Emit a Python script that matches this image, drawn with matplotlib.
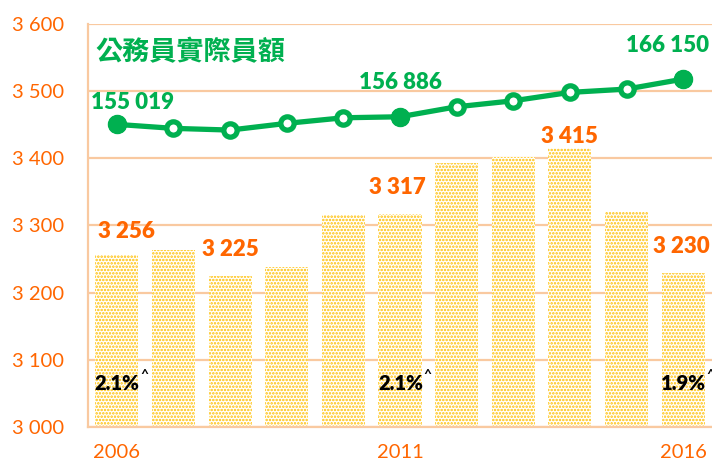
import numpy as np
import matplotlib
matplotlib.use('Agg')
import matplotlib.pyplot as plt

# data
years = ['2006', '2007', '2008', '2009', '2010', '2011',
         '2012', '2013', '2014', '2015', '2016']
bar_values = [3256, 3263, 3225, 3238, 3315, 3317,
              3393, 3402, 3415, 3320, 3230]
staff = [155019, 154036, 153619, 155265, 156640, 156886,
         159343, 160818, 162881, 163692, 166150]
bar_labelled = [0, 2, 5, 8, 10]
staff_labelled = [0, 5, 10]
pct_idx = [0, 5, 10]
pct_text = ['2.1%', '2.1%', '1.9%']
tick_years = [0, 5, 10]

orange = '#FF6600'
green = '#00B050'
grid_col = '#F9C9A0'
dot_col = '#FFBF00'

plt.rcParams['font.family'] = ['Lato', 'Noto Sans CJK TC', 'DejaVu Sans']
plt.rcParams['hatch.linewidth'] = 1.2

fig = plt.figure(figsize = (7.12, 4.67), dpi = 100)
ax = fig.add_axes([88/712., 1 - 427/467., 623.5/712., 403/467.])
x = np.arange(len(years))

ax.bar(x, np.array(bar_values) - 3000, bottom = 3000, width = 0.76,
       color = 'white', edgecolor = dot_col, linewidth = 0,
       hatch = '.....', zorder = 2)
ax.set_xlim(-0.508, 10.5)
ax.set_ylim(3000, 3600)
ax.set_yticks(np.arange(3000, 3601, 100))
ax.set_yticklabels(['{0:,}'.format(v).replace(',', ' ')
                    for v in range(3000, 3601, 100)])
ax.set_xticks(tick_years)
ax.set_xticklabels([years[i] for i in tick_years])
ax.tick_params(axis = 'y', length = 0, pad = 17, labelsize = 14.5,
               labelcolor = orange)
ax.tick_params(axis = 'x', length = 0, pad = 12, labelsize = 14.5,
               labelcolor = orange)
ax.grid(axis = 'y', color = grid_col, linewidth = 1.6, zorder = 0)
for s in ['top', 'right']:
    ax.spines[s].set_visible(False)
for s in ['left', 'bottom']:
    ax.spines[s].set_color(grid_col)
    ax.spines[s].set_linewidth(1.6)

# bar value labels, offsets in points
bar_off = [(7, 17), (0, 19), (-2, 19), (0, 8.5), (-1.5, 19)]
for i, off in zip(bar_labelled, bar_off):
    ax.annotate('{0:,}'.format(bar_values[i]).replace(',', ' '),
                xy = (x[i], bar_values[i]), xytext = off,
                textcoords = 'offset points', ha = 'center', va = 'center',
                fontsize = 16, fontweight = 'heavy', color = orange)

# growth percentages inside bars
for i, t in zip(pct_idx, pct_text):
    txt = ax.text(x[i] - 0.39, 3065, t, ha = 'left', va = 'center',
                  fontsize = 14.5, fontweight = 'heavy', color = 'black',
                  zorder = 5)
    ax.annotate('^', xy = (1, 1), xycoords = txt, xytext = (0.3, -1),
                textcoords = 'offset points', ha = 'left', va = 'center',
                fontsize = 10, fontweight = 'bold', color = 'black')

# civil servant strength on a hidden second axis
ax2 = ax.twinx()
ax2.set_ylim(80600, 179700)
ax2.set_axis_off()
ax2.plot(x, staff, color = green, linewidth = 3.8, marker = 'o',
         markersize = 9.6, markeredgewidth = 3.8,
         markerfacecolor = 'white', markeredgecolor = green, zorder = 3)
ax2.plot(x[staff_labelled], [staff[i] for i in staff_labelled],
         linestyle = 'none', marker = 'o', markersize = 13,
         color = green, zorder = 4)
staff_off = [(11.5, 16), (0, 24.5), (-11.5, 24.5)]
for i, off in zip(staff_labelled, staff_off):
    ax2.annotate('{0:,}'.format(staff[i]).replace(',', ' '),
                 xy = (x[i], staff[i]), xytext = off,
                 textcoords = 'offset points', ha = 'center', va = 'center',
                 fontsize = 16, fontweight = 'heavy', color = green)

ax2.text(7/623.5, 1 - 28/403., '公務員實際員額', transform = ax2.transAxes,
         ha = 'left', va = 'center', fontsize = 19.5, fontweight = 'bold',
         color = green, family = ['Noto Sans CJK TC', 'DejaVu Sans'])

fig.savefig('out.png', dpi = 100)
